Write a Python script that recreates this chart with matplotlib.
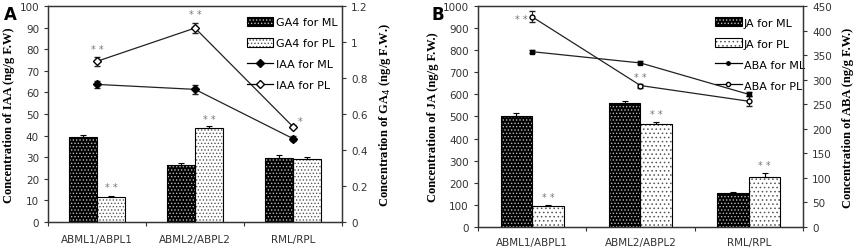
import matplotlib.pyplot as plt
from matplotlib.patches import Patch
from matplotlib.lines import Line2D
import numpy as np

categories = ['ABML1/ABPL1', 'ABML2/ABPL2', 'RML/RPL']

# panel A
ga4_ml = [0.474, 0.318, 0.355]
ga4_ml_err = [0.012, 0.012, 0.015]
ga4_pl = [0.139, 0.522, 0.352]
ga4_pl_err = [0.008, 0.010, 0.010]
iaa_ml = [63.7, 61.4, 38.6]
iaa_ml_err = [1.5, 2.0, 1.0]
iaa_pl = [74.4, 89.8, 44.1]
iaa_pl_err = [2.0, 2.5, 0.8]

# panel B
ja_ml = [502, 562, 153]
ja_ml_err = [15, 8, 3]
ja_pl = [95, 467, 224]
ja_pl_err = [3, 8, 18]
aba_ml = [357, 334, 270]
aba_ml_err = [3, 3, 4]
aba_pl = [428, 288, 256]
aba_pl_err = [11, 4, 10]

plt.rcParams['font.family'] = 'DejaVu Sans'
plt.rcParams['hatch.linewidth'] = 0.6
tick_col = '#333333'
star_col = '#777777'
x = np.arange(len(categories))
w = 0.29

fig = plt.figure(figsize=(8.58, 2.51), dpi=100)
axA = fig.add_axes([0.056, 0.1116, 0.3426, 0.8605])
axB = fig.add_axes([0.557, 0.092, 0.379, 0.880])


def hatched_bars(ax, xs, vals, errs, dark, hatch='.....'):
    if dark:
        ax.bar(xs, vals, w, color='black', hatch=hatch, edgecolor='#bbbbbb', linewidth=0, zorder=2)
    else:
        ax.bar(xs, vals, w, color='white', hatch=hatch, edgecolor='#555555', linewidth=0, zorder=2)
    ax.bar(xs, vals, w, fill=False, edgecolor='black', linewidth=0.8, zorder=3)
    ax.errorbar(xs, vals, yerr=[np.zeros(len(vals)), errs], fmt='none', ecolor='black',
                elinewidth=0.8, capsize=2.5, capthick=0.8, zorder=4)


def handle(dark, hatch='.....'):
    if dark:
        p = Patch(facecolor='black', hatch=hatch, edgecolor='#bbbbbb', linewidth=0)
    else:
        p = Patch(facecolor='white', hatch=hatch, edgecolor='#555555', linewidth=0)
    return (p, Patch(fill=False, edgecolor='black', linewidth=0.8))


def style(ax, ax2, pad):
    for a in (ax, ax2):
        a.tick_params(labelsize=7.5, colors=tick_col, length=3, width=0.8)
        for s in a.spines.values():
            s.set_linewidth(0.9)
            s.set_color('#333333')
    ax.set_xlim(-0.5, 2.5)
    ax.set_xticks([-0.5, 0.5, 1.5, 2.5])
    ax.set_xticklabels([])
    ax.set_xticks(x, minor=True)
    ax.set_xticklabels(categories, minor=True)
    ax.tick_params(axis='x', which='minor', length=0, pad=pad, labelsize=7.5, colors=tick_col)


# ---------- panel A ----------
axA2 = axA.twinx()
hatched_bars(axA2, x - w / 2, ga4_ml, ga4_ml_err, True)
hatched_bars(axA2, x + w / 2, ga4_pl, ga4_pl_err, False)
axA.set_zorder(axA2.get_zorder() + 1)
axA.patch.set_visible(False)

axA.errorbar(x, iaa_ml, yerr=iaa_ml_err, color='#222222', lw=0.9, marker='D', ms=4.5,
             mfc='black', mec='black', capsize=2.5, elinewidth=0.8)
axA.errorbar(x, iaa_pl, yerr=iaa_pl_err, color='#222222', lw=0.9, marker='D', ms=4.5,
             mfc='white', mec='black', capsize=2.5, elinewidth=0.8)

axA.set_ylim(0, 100)
axA.set_yticks(range(0, 101, 10))
axA2.set_ylim(0, 1.2)
axA2.set_yticks([0, 0.2, 0.4, 0.6, 0.8, 1.0, 1.2])
axA2.set_yticklabels(['0', '0.2', '0.4', '0.6', '0.8', '1', '1.2'])
style(axA, axA2, 9)

axA.set_ylabel('Concentration of IAA (ng/g F.W)', family='Liberation Serif', weight='bold',
               fontsize=9, labelpad=3)
axA2.set_ylabel('Concentration of GA$_4$ (ng/g F.W.)', family='Liberation Serif', weight='bold',
                fontsize=9, labelpad=7)

# significance marks
axA.text(x[0], iaa_pl[0] + iaa_pl_err[0] + 1.5, '* *', ha='center', va='bottom', fontsize=7, color=star_col)
axA.text(x[1], iaa_pl[1] + iaa_pl_err[1] + 1.5, '* *', ha='center', va='bottom', fontsize=7, color=star_col)
axA.text(x[2] + 0.07, iaa_pl[2] + 0.5, '*', ha='center', va='bottom', fontsize=7, color=star_col)
axA2.text(x[0] + w / 2, ga4_pl[0] + 0.025, '* *', ha='center', va='bottom', fontsize=7, color=star_col)
axA2.text(x[1] + w / 2, ga4_pl[1] + 0.025, '* *', ha='center', va='bottom', fontsize=7, color=star_col)

hA = [handle(True), handle(False),
      Line2D([], [], color='black', lw=0.9, marker='D', ms=4, mfc='black'),
      Line2D([], [], color='black', lw=0.9, marker='D', ms=4, mfc='white')]
axA.legend(hA, ['GA4 for ML', 'GA4 for PL', 'IAA for ML', 'IAA for PL'], loc='upper right',
           frameon=False, fontsize=8, handlelength=2.4, handleheight=0.9, labelspacing=0.95,
           handletextpad=0.2, borderaxespad=0.3, bbox_to_anchor=(1.01, 0.985))

# ---------- panel B ----------
axB2 = axB.twinx()
hatched_bars(axB, x - w / 2, ja_ml, ja_ml_err, True)
hatched_bars(axB, x + w / 2, ja_pl, ja_pl_err, False, '....')

axB2.errorbar(x, aba_ml, yerr=aba_ml_err, color='#222222', lw=0.9, marker='s', ms=3.5,
              mfc='black', mec='black', capsize=2.5, elinewidth=0.8)
axB2.errorbar(x, aba_pl, yerr=aba_pl_err, color='#222222', lw=0.9, marker='o', ms=3.5,
              mfc='white', mec='black', capsize=2.5, elinewidth=0.8)

axB.set_ylim(0, 1000)
axB.set_yticks(range(0, 1001, 100))
axB2.set_ylim(0, 450)
axB2.set_yticks(range(0, 451, 50))
style(axB, axB2, 7)

axB.set_ylabel('Concentration of JA (ng/g F.W.)', family='Liberation Serif', weight='bold',
               fontsize=9, labelpad=3)
axB2.set_ylabel('Concentration of ABA (ng/g F.W.)', family='Liberation Serif', weight='bold',
                fontsize=9, labelpad=7)

axB2.text(x[0] - 0.1, aba_pl[0] - 4, '* *', ha='center', va='center', fontsize=7, color=star_col)
axB2.text(x[1], aba_pl[1] + aba_pl_err[1] + 3, '* *', ha='center', va='bottom', fontsize=7, color=star_col)
for i in range(3):
    axB.text(x[i] + w / 2, ja_pl[i] + ja_pl_err[i] + 15, '* *', ha='center', va='bottom',
             fontsize=7, color=star_col)

hB = [handle(True), handle(False, '....'),
      Line2D([], [], color='black', lw=0.9, marker='o', ms=2.5, mfc='black'),
      Line2D([], [], color='black', lw=0.9, marker='o', ms=3, mfc='white')]
axB.legend(hB, ['JA for ML', 'JA for PL', 'ABA for ML', 'ABA for PL'], loc='upper right',
           frameon=False, fontsize=8, handlelength=2.4, handleheight=0.9, labelspacing=0.95,
           handletextpad=0.2, borderaxespad=0.3, bbox_to_anchor=(1.03, 0.985))

fig.text(0.005, 0.975, 'A', fontsize=12, weight='bold', va='top')
fig.text(0.503, 0.975, 'B', fontsize=12, weight='bold', va='top')

fig.savefig('out.png', dpi=100)
